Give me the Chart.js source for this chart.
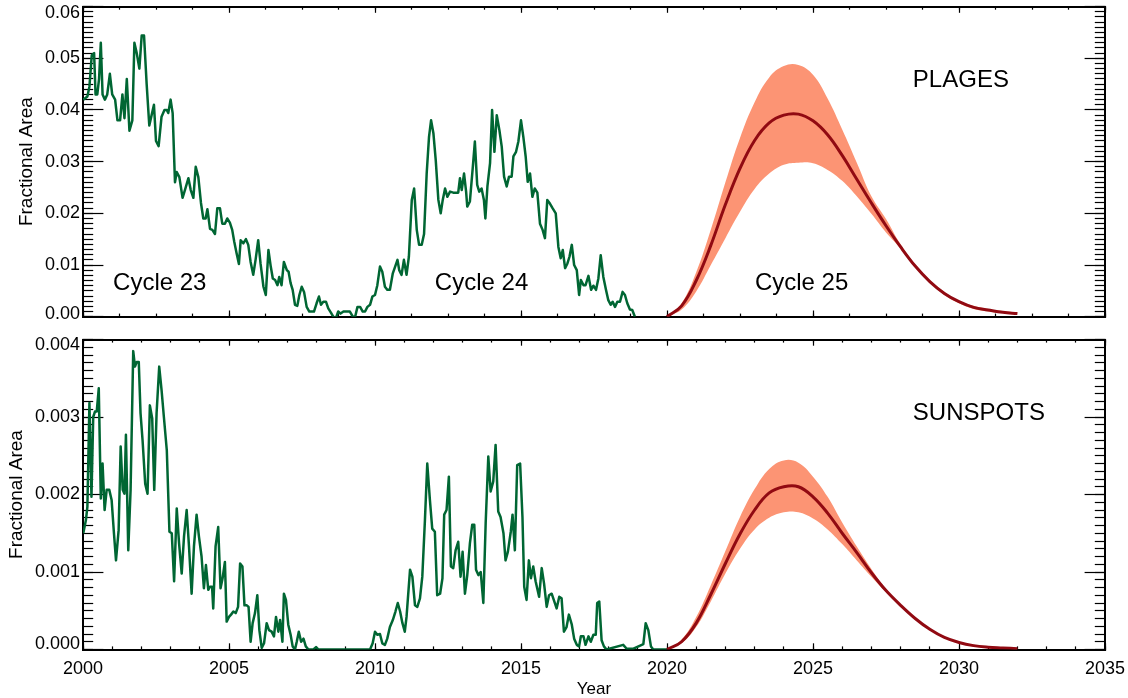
<!DOCTYPE html>
<html>
<head>
<meta charset="utf-8">
<title>Plages and sunspots, cycles 23-25</title>
<script src="https://cdn.jsdelivr.net/npm/chart.js@4.4.1/dist/chart.umd.min.js"></script>
<style>
  html, body { margin: 0; padding: 0; background: #fff; }
  #wrap { position: relative; width: 1128px; height: 698px; }
  canvas { position: absolute; left: 0; }
  #plages { top: 0; }
  #sunspots { top: 330px; }
</style>
</head>
<body>
<div id="wrap">
  <canvas id="plages" width="1128" height="330"></canvas>
  <canvas id="sunspots" width="1128" height="368"></canvas>
</div>
<script>
// Observed plage fractional area (decimal year, value)
const plageYears = [
  2000.01, 2000.15, 2000.22, 2000.30, 2000.38, 2000.43, 2000.49, 2000.55, 2000.61, 2000.67,
  2000.75, 2000.83, 2000.92, 2001.00, 2001.10, 2001.18, 2001.27, 2001.35, 2001.42, 2001.50,
  2001.59, 2001.69, 2001.76, 2001.84, 2001.93, 2002.01, 2002.09, 2002.18, 2002.27, 2002.35,
  2002.43, 2002.50, 2002.59, 2002.69, 2002.79, 2002.87, 2002.92, 2003.00, 2003.07, 2003.15,
  2003.21, 2003.30, 2003.41, 2003.49, 2003.61, 2003.69, 2003.78, 2003.86, 2003.95, 2004.04,
  2004.12, 2004.20, 2004.26, 2004.35, 2004.43, 2004.52, 2004.60, 2004.69, 2004.77, 2004.86,
  2004.94, 2005.03, 2005.11, 2005.18, 2005.26, 2005.34, 2005.40, 2005.49, 2005.58, 2005.66,
  2005.74, 2005.83, 2005.91, 2006.00, 2006.08, 2006.18, 2006.26, 2006.35, 2006.43, 2006.50,
  2006.58, 2006.66, 2006.72, 2006.80, 2006.88, 2006.98, 2007.04, 2007.11, 2007.18, 2007.26,
  2007.34, 2007.41, 2007.49, 2007.57, 2007.66, 2007.75, 2007.83, 2007.91, 2008.00, 2008.08,
  2008.15, 2008.23, 2008.32, 2008.40, 2008.49, 2008.57, 2008.66, 2008.74, 2008.82, 2008.92,
  2009.03, 2009.14, 2009.24, 2009.32, 2009.40, 2009.49, 2009.58, 2009.66, 2009.74, 2009.83,
  2009.91, 2010.00, 2010.08, 2010.17, 2010.25, 2010.34, 2010.42, 2010.51, 2010.61, 2010.69,
  2010.77, 2010.83, 2010.91, 2010.99, 2011.08, 2011.16, 2011.26, 2011.34, 2011.43, 2011.51,
  2011.60, 2011.68, 2011.77, 2011.85, 2011.92, 2012.00, 2012.08, 2012.17, 2012.25, 2012.32,
  2012.40, 2012.48, 2012.57, 2012.68, 2012.80, 2012.85, 2012.91, 2012.97, 2013.05, 2013.12,
  2013.16, 2013.25, 2013.35, 2013.42, 2013.50, 2013.57, 2013.65, 2013.73, 2013.78, 2013.85,
  2013.94, 2014.01, 2014.09, 2014.17, 2014.26, 2014.34, 2014.42, 2014.51, 2014.59, 2014.68,
  2014.74, 2014.83, 2014.91, 2015.00, 2015.08, 2015.16, 2015.23, 2015.31, 2015.39, 2015.47,
  2015.56, 2015.65, 2015.74, 2015.82, 2015.90, 2015.99, 2016.08, 2016.19, 2016.28, 2016.36,
  2016.43, 2016.51, 2016.59, 2016.66, 2016.74, 2016.82, 2016.91, 2016.99, 2017.05, 2017.14,
  2017.21, 2017.31, 2017.40, 2017.48, 2017.57, 2017.65, 2017.73, 2017.82, 2017.91, 2017.99,
  2018.07, 2018.14, 2018.22, 2018.30, 2018.39, 2018.48, 2018.56, 2018.64, 2018.73, 2018.81,
  2018.90
];
const plageArea = [
  0.0420, 0.0426, 0.0445, 0.0506, 0.0510, 0.0430, 0.0430, 0.0460, 0.0530, 0.0430,
  0.0420, 0.0430, 0.0470, 0.0430, 0.0420, 0.0380, 0.0380, 0.0430, 0.0384, 0.0460,
  0.0360, 0.0380, 0.0530, 0.0510, 0.0480, 0.0544, 0.0544, 0.0450, 0.0370, 0.0390,
  0.0410, 0.0340, 0.0330, 0.0387, 0.0400, 0.0400, 0.0394, 0.0420, 0.0394, 0.0260,
  0.0280, 0.0270, 0.0230, 0.0245, 0.0268, 0.0245, 0.0230, 0.0290, 0.0270, 0.0220,
  0.0190, 0.0190, 0.0208, 0.0170, 0.0168, 0.0160, 0.0210, 0.0210, 0.0180, 0.0180,
  0.0190, 0.0182, 0.0168, 0.0145, 0.0123, 0.0102, 0.0148, 0.0142, 0.0150, 0.0139,
  0.0106, 0.0081, 0.0110, 0.0148, 0.0103, 0.0058, 0.0042, 0.0129, 0.0097, 0.0074,
  0.0071, 0.0061, 0.0077, 0.0061, 0.0106, 0.0090, 0.0087, 0.0065, 0.0052, 0.0023,
  0.0021, 0.0042, 0.0058, 0.0048, 0.0019, 0.0010, 0.0010, 0.0010, 0.0026, 0.0039,
  0.0023, 0.0029, 0.0029, 0.0016, 0.0008, 0.0000, -0.0003, 0.0010, 0.0006, 0.0010,
  0.0010, 0.0010, 0.0000, 0.0000, 0.0019, 0.0019, 0.0010, 0.0010, 0.0019, 0.0023,
  0.0039, 0.0042, 0.0061, 0.0097, 0.0087, 0.0058, 0.0052, 0.0052, 0.0084, 0.0097,
  0.0110, 0.0090, 0.0081, 0.0110, 0.0081, 0.0116, 0.0226, 0.0248, 0.0168, 0.0139,
  0.0139, 0.0160, 0.0277, 0.0348, 0.0380, 0.0355, 0.0303, 0.0226, 0.0200, 0.0226,
  0.0248, 0.0232, 0.0242, 0.0240, 0.0240, 0.0240, 0.0268, 0.0245, 0.0277, 0.0242,
  0.0213, 0.0223, 0.0290, 0.0339, 0.0255, 0.0242, 0.0248, 0.0226, 0.0190, 0.0252,
  0.0297, 0.0400, 0.0319, 0.0390, 0.0361, 0.0329, 0.0271, 0.0252, 0.0271, 0.0271,
  0.0310, 0.0319, 0.0339, 0.0380, 0.0348, 0.0310, 0.0261, 0.0277, 0.0232, 0.0248,
  0.0240, 0.0180, 0.0168, 0.0152, 0.0226, 0.0219, 0.0210, 0.0200, 0.0135, 0.0113,
  0.0129, 0.0094, 0.0103, 0.0116, 0.0139, 0.0100, 0.0090, 0.0042, 0.0071, 0.0061,
  0.0061, 0.0079, 0.0052, 0.0060, 0.0052, 0.0074, 0.0119, 0.0077, 0.0052, 0.0032,
  0.0023, 0.0029, 0.0019, 0.0029, 0.0029, 0.0048, 0.0042, 0.0026, 0.0014, 0.0013,
  0.0000
];

// Observed sunspot fractional area
const spotYears = [
  2000.01, 2000.10, 2000.15, 2000.22, 2000.29, 2000.35, 2000.41, 2000.47, 2000.54, 2000.61,
  2000.67, 2000.74, 2000.81, 2000.90, 2000.98, 2001.06, 2001.13, 2001.22, 2001.29, 2001.36,
  2001.42, 2001.47, 2001.55, 2001.63, 2001.72, 2001.78, 2001.84, 2001.91, 2001.97, 2002.04,
  2002.13, 2002.21, 2002.29, 2002.37, 2002.44, 2002.52, 2002.61, 2002.69, 2002.77, 2002.87,
  2002.96, 2003.04, 2003.12, 2003.21, 2003.29, 2003.38, 2003.46, 2003.55, 2003.63, 2003.72,
  2003.80, 2003.89, 2003.97, 2004.06, 2004.14, 2004.21, 2004.29, 2004.35, 2004.42, 2004.46,
  2004.54, 2004.63, 2004.71, 2004.78, 2004.86, 2004.92, 2005.00, 2005.07, 2005.15, 2005.23,
  2005.31, 2005.38, 2005.46, 2005.53, 2005.61, 2005.67, 2005.74, 2005.81, 2005.89, 2005.97,
  2006.04, 2006.12, 2006.20, 2006.29, 2006.37, 2006.46, 2006.54, 2006.61, 2006.69, 2006.75,
  2006.83, 2006.88, 2006.95, 2007.03, 2007.11, 2007.18, 2007.26, 2007.32, 2007.39, 2007.47,
  2007.55, 2007.63, 2007.72, 2007.89, 2007.98, 2008.06, 2008.50, 2009.00, 2009.50, 2009.83,
  2009.92, 2010.00, 2010.08, 2010.17, 2010.25, 2010.34, 2010.42, 2010.51, 2010.61, 2010.70,
  2010.78, 2010.86, 2010.94, 2011.02, 2011.08, 2011.20, 2011.28, 2011.37, 2011.45, 2011.54,
  2011.62, 2011.71, 2011.79, 2011.88, 2011.96, 2012.05, 2012.13, 2012.23, 2012.31, 2012.37,
  2012.45, 2012.53, 2012.60, 2012.68, 2012.76, 2012.85, 2012.93, 2013.00, 2013.08, 2013.16,
  2013.25, 2013.33, 2013.40, 2013.46, 2013.54, 2013.62, 2013.71, 2013.79, 2013.88, 2013.96,
  2014.05, 2014.13, 2014.22, 2014.30, 2014.40, 2014.47, 2014.55, 2014.65, 2014.71, 2014.79,
  2014.87, 2014.97, 2015.05, 2015.11, 2015.19, 2015.27, 2015.34, 2015.42, 2015.50, 2015.62,
  2015.71, 2015.79, 2015.88, 2015.96, 2016.05, 2016.14, 2016.22, 2016.31, 2016.39, 2016.47,
  2016.56, 2016.64, 2016.74, 2016.82, 2016.91, 2016.99, 2017.05, 2017.14, 2017.21, 2017.31,
  2017.39, 2017.48, 2017.56, 2017.61, 2017.68, 2017.76, 2017.84, 2017.93, 2018.50, 2018.62,
  2018.85, 2019.08, 2019.19, 2019.27, 2019.36, 2019.45, 2019.53, 2020.00
];
const spotArea = [
  0.00150, 0.00167, 0.00184, 0.00318, 0.00197, 0.00300, 0.00307, 0.00307, 0.00337, 0.00195,
  0.00240, 0.00180, 0.00206, 0.00206, 0.00193, 0.00150, 0.00115, 0.00154, 0.00262, 0.00206,
  0.00201, 0.00277, 0.00128, 0.00206, 0.00385, 0.00365, 0.00371, 0.00371, 0.00305, 0.00270,
  0.00214, 0.00201, 0.00315, 0.00298, 0.00206, 0.00305, 0.00365, 0.00335, 0.00300, 0.00257,
  0.00152, 0.00150, 0.00088, 0.00182, 0.00137, 0.00098, 0.00146, 0.00180, 0.00133, 0.00072,
  0.00133, 0.00174, 0.00146, 0.00120, 0.00079, 0.00109, 0.00077, 0.00081, 0.00081, 0.00053,
  0.00133, 0.00158, 0.00079, 0.00092, 0.00113, 0.00036, 0.00042, 0.00045, 0.00049, 0.00047,
  0.00055, 0.00111, 0.00107, 0.00057, 0.00057, 0.00055, 0.00010, 0.00034, 0.00047, 0.00070,
  0.00025, 0.00002, 0.00008, 0.00034, 0.00025, 0.00023, 0.00017, 0.00042, 0.00023, 0.00038,
  0.00010, 0.00072, 0.00064, 0.00032, 0.00019, 0.00004, 0.00000, 0.00010, 0.00023, 0.00010,
  0.00014, 0.00004, 0.00000, 0.00000, 0.00003, 0.00000, 0.00000, 0.00000, 0.00000, 0.00000,
  0.00008, 0.00023, 0.00019, 0.00020, 0.00008, 0.00006, 0.00014, 0.00029, 0.00038, 0.00049,
  0.00060, 0.00049, 0.00034, 0.00023, 0.00042, 0.00103, 0.00094, 0.00057, 0.00055, 0.00066,
  0.00094, 0.00167, 0.00240, 0.00193, 0.00156, 0.00152, 0.00070, 0.00072, 0.00092, 0.00174,
  0.00180, 0.00223, 0.00107, 0.00105, 0.00128, 0.00139, 0.00094, 0.00126, 0.00072, 0.00096,
  0.00137, 0.00161, 0.00161, 0.00103, 0.00096, 0.00100, 0.00060, 0.00163, 0.00249, 0.00204,
  0.00217, 0.00264, 0.00178, 0.00171, 0.00150, 0.00115, 0.00126, 0.00152, 0.00174, 0.00128,
  0.00238, 0.00240, 0.00171, 0.00081, 0.00064, 0.00115, 0.00092, 0.00107, 0.00088, 0.00068,
  0.00105, 0.00085, 0.00055, 0.00070, 0.00072, 0.00062, 0.00053, 0.00068, 0.00066, 0.00023,
  0.00029, 0.00045, 0.00032, 0.00014, 0.00006, 0.00004, 0.00017, 0.00017, 0.00006, 0.00017,
  0.00010, 0.00019, 0.00019, 0.00060, 0.00062, 0.00012, 0.00004, 0.00000, 0.00006, 0.00001,
  0.00001, 0.00005, 0.00007, 0.00034, 0.00025, 0.00004, 0.00000, 0.00000
];

// Cycle 25 prediction, every half year
const predYears = [
  2020.0, 2020.5, 2021.0, 2021.5, 2022.0, 2022.5, 2023.0, 2023.5, 2024.0, 2024.5,
  2025.0, 2025.5, 2026.0, 2026.5, 2027.0, 2027.5, 2028.0, 2028.5, 2029.0, 2029.5,
  2030.0, 2030.5, 2031.0, 2031.5, 2032.0
];
const plageMean = [
  0, 0.0021, 0.0070, 0.0138, 0.0217, 0.0287, 0.0341, 0.0375, 0.0390, 0.0392,
  0.0379, 0.0352, 0.0312, 0.0266, 0.0220, 0.0176, 0.0135, 0.0098, 0.0068, 0.0045,
  0.0029, 0.0018, 0.0013, 0.00085, 0.0006
];
const plageHigh = [
  0, 0.0026, 0.0086, 0.0168, 0.0260, 0.0346, 0.0415, 0.0463, 0.0485, 0.0487,
  0.0468, 0.0422, 0.0362, 0.0298, 0.0233, 0.0189, 0.0140, 0.0101, 0.0071, 0.0048,
  0.0031, 0.0021, 0.0015, 0.0011, 0.0008
];
const plageLow = [
  0, 0.0014, 0.0049, 0.0100, 0.0152, 0.0203, 0.0247, 0.0277, 0.0294, 0.0298,
  0.0297, 0.0284, 0.0263, 0.0233, 0.0199, 0.0163, 0.0132, 0.0095, 0.0066, 0.0042,
  0.0026, 0.0015, 0.0010, 0.0007, 0.0005
];
const spotMean = [
  0, 0.00010, 0.00034, 0.00071, 0.00111, 0.00149, 0.00180, 0.00202, 0.00210, 0.00210,
  0.00197, 0.00176, 0.00150, 0.00125, 0.00099, 0.00076, 0.00057, 0.00040, 0.00026, 0.000155,
  0.00009, 0.00005, 0.00003, 0.00002, 0.00001
];
const spotHigh = [
  0, 0.00013, 0.00042, 0.00083, 0.00127, 0.00171, 0.00207, 0.00233, 0.00244, 0.00241,
  0.00223, 0.00197, 0.00164, 0.00133, 0.00104, 0.00078, 0.00058, 0.00041, 0.00027, 0.00016,
  0.00010, 0.00006, 0.00004, 0.00003, 0.00002
];
const spotLow = [
  0, 0.00008, 0.00029, 0.00062, 0.00098, 0.00130, 0.00155, 0.00170, 0.00177, 0.00177,
  0.00169, 0.00155, 0.00136, 0.00115, 0.00094, 0.00074, 0.00056, 0.00039, 0.00025, 0.00015,
  0.00008, 0.00004, 0.00002, 0.00001, 0.00000
];

const FONT = '"Liberation Sans", Arial, Helvetica, sans-serif';
const GREEN = 'rgb(0,102,51)';
const DARK_RED = 'rgb(145,10,18)';
const SALMON = 'rgb(252,148,116)';

function toPoints(xs, ys) {
  return xs.map((x, i) => ({x: x, y: ys[i]}));
}

// Text written inside the plot, placed in data coordinates
const textLabels = {
  id: 'textLabels',
  afterDatasetsDraw(chart, args, opts) {
    const {ctx, scales} = chart;
    ctx.save();
    ctx.font = '24px ' + FONT;
    ctx.fillStyle = '#000';
    ctx.textAlign = 'left';
    ctx.textBaseline = 'middle';
    opts.items.forEach(item => {
      ctx.fillText(item.text, scales.x.getPixelForValue(item.x), scales.y.getPixelForValue(item.y));
    });
    ctx.restore();
  }
};

// Fix the size of an axis box so the plot area lands where the figure has it
function fixSize(size) {
  return scale => {
    if (scale.isHorizontal()) {
      scale.height = size;
    } else {
      scale.width = size;
    }
    scale.paddingTop = scale.paddingBottom = scale.paddingLeft = scale.paddingRight = 0;
  };
}

// Inward tick marks only, no grid lines
function tickGrid(len) {
  return {display: true, drawOnChartArea: false, drawTicks: true, tickLength: -len, tickWidth: 1.2, tickColor: '#000'};
}

function buildScales(p) {
  const frame = {display: true, width: 2, color: '#000'};
  const noFrame = {display: false};
  const hidden = step => ({stepSize: step, display: false});
  const xRange = {type: 'linear', min: 2000, max: 2035};
  const yRange = {type: 'linear', min: 0, max: p.yMax};
  const lastTick = Math.round(p.yMax / p.yStep);
  return {
    x: Object.assign({}, xRange, {
      position: 'bottom', weight: 1, border: frame, grid: tickGrid(6.2),
      ticks: {
        stepSize: 5, display: p.xLabels, autoSkip: false, maxRotation: 0, padding: 14.5,
        color: '#000', font: {family: FONT, size: 18},
        callback: v => String(Math.round(v))
      },
      title: {display: p.xLabels, text: 'Year', color: '#000', font: {family: FONT, size: 17}, padding: {top: 0, bottom: -2}},
      afterFit: fixSize(p.xSize)
    }),
    xMinor: Object.assign({}, xRange, {
      position: 'bottom', weight: 0, border: noFrame, grid: tickGrid(3.1), ticks: hidden(p.xMinorStep),
      afterFit: fixSize(0)
    }),
    xTop: Object.assign({}, xRange, {
      position: 'top', weight: 1, border: frame, grid: tickGrid(6.2), ticks: hidden(5),
      afterFit: fixSize(0)
    }),
    xTopMinor: Object.assign({}, xRange, {
      position: 'top', weight: 0, border: noFrame, grid: tickGrid(3.1), ticks: hidden(p.xMinorStep),
      afterFit: fixSize(0)
    }),
    y: Object.assign({}, yRange, {
      position: 'left', weight: 1, border: frame, grid: tickGrid(20.4),
      ticks: {
        stepSize: p.yStep, padding: 23.4, color: '#000',
        // the end labels sit a little inside the frame, as in the figure
        font: ctx => {
          let lh = 1.2;
          if (ctx.index === 0) lh = p.bottomShift * 2 / 18;
          if (ctx.index === lastTick) lh = p.topShift * 2 / 18;
          return {family: FONT, size: 18, lineHeight: lh};
        },
        callback: (v, i) => {
          const s = v.toFixed(p.digits);
          if (i === 0) return [s, ''];
          if (i === lastTick) return ['', s];
          return s;
        }
      },
      title: {display: true, text: 'Fractional Area', color: '#000', font: {family: FONT, size: 19}, padding: {top: p.titlePad, bottom: 0}},
      afterFit: fixSize(83)
    }),
    yMinor: Object.assign({}, yRange, {
      position: 'left', weight: 0, border: noFrame, grid: tickGrid(10.2), ticks: hidden(p.yStep / 10),
      afterFit: fixSize(0)
    }),
    yRight: Object.assign({}, yRange, {
      position: 'right', weight: 1, border: frame, grid: tickGrid(20.4), ticks: hidden(p.yStep),
      afterFit: fixSize(0)
    }),
    yRightMinor: Object.assign({}, yRange, {
      position: 'right', weight: 0, border: noFrame, grid: tickGrid(10.2), ticks: hidden(p.yStep / 10),
      afterFit: fixSize(0)
    })
  };
}

function buildPanel(canvasId, p) {
  return new Chart(document.getElementById(canvasId), {
    type: 'line',
    data: {
      datasets: [
        {
          label: 'Predicted mean', data: toPoints(predYears, p.mean),
          borderColor: DARK_RED, borderWidth: 3, pointRadius: 0, tension: 0.4, fill: false
        },
        {
          label: 'Observed', data: toPoints(p.obsYears, p.obs),
          borderColor: GREEN, borderWidth: 2.5, borderJoinStyle: 'round', pointRadius: 0, tension: 0, fill: false
        },
        {
          label: 'Upper bound', data: toPoints(predYears, p.high),
          borderWidth: 0, borderColor: 'rgba(0,0,0,0)', backgroundColor: SALMON,
          pointRadius: 0, tension: 0.4, fill: '+1'
        },
        {
          label: 'Lower bound', data: toPoints(predYears, p.low),
          borderWidth: 0, borderColor: 'rgba(0,0,0,0)', pointRadius: 0, tension: 0.4, fill: false
        }
      ]
    },
    options: {
      responsive: false,
      animation: false,
      devicePixelRatio: 1,
      layout: {padding: p.padding},
      scales: buildScales(p),
      plugins: {
        legend: {display: false},
        tooltip: {enabled: false},
        textLabels: {items: p.labels}
      }
    },
    plugins: [textLabels]
  });
}

buildPanel('plages', {
  obsYears: plageYears, obs: plageArea, mean: plageMean, high: plageHigh, low: plageLow,
  yMax: 0.06, yStep: 0.01, digits: 2, xMinorStep: 1.25, xLabels: false, xSize: 0, titlePad: 15.6,
  topShift: 6.4, bottomShift: 3,
  padding: {left: 0, right: 23, top: 6.6, bottom: 13.3},
  labels: [
    {text: 'Cycle 23', x: 2001.03, y: 0.0065},
    {text: 'Cycle 24', x: 2012.05, y: 0.0065},
    {text: 'Cycle 25', x: 2023.01, y: 0.0065},
    {text: 'PLAGES', x: 2028.42, y: 0.0458}
  ]
});

buildPanel('sunspots', {
  obsYears: spotYears, obs: spotArea, mean: spotMean, high: spotHigh, low: spotLow,
  yMax: 0.004, yStep: 0.001, digits: 3, xMinorStep: 1, xLabels: true, xSize: 48.5, titlePad: 5.1,
  topShift: 5.5, bottomShift: 5.5,
  padding: {left: 0, right: 23, top: 9.5, bottom: 0},
  labels: [
    {text: 'SUNSPOTS', x: 2028.42, y: 0.00305}
  ]
});
</script>
</body>
</html>
